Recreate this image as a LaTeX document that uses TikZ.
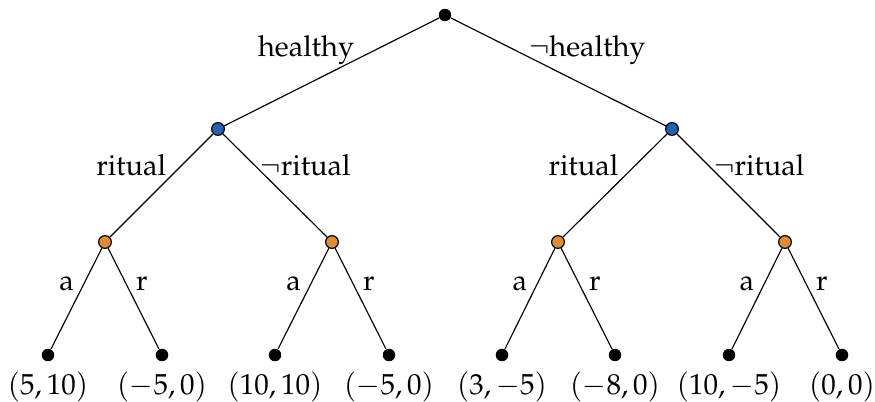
\documentclass[tikz,border=0pt]{standalone}
\usepackage[T1]{fontenc}
\usepackage{mathpazo}
\usepackage{tikz}

\definecolor{natblue}{RGB}{35,98,178}
\definecolor{natorange}{RGB}{222,140,58}

\begin{document}
\begin{tikzpicture}[x=0.345pt,y=-0.345pt,
    leaf/.style={circle,fill=black,inner sep=0pt,minimum size=4.3pt},
    chance/.style={circle,draw=black,fill=#1,inner sep=0pt,minimum size=4.4pt,line width=0.4pt}]
    \useasboundingbox (0,0) rectangle (875,402);
    \node[leaf] (root) at (445,15) {};
    \node[chance=natblue] (h) at (218,129) {};
    \node[chance=natblue] (nh) at (672,129) {};
    \node[chance=natorange] (hr) at (105,242) {};
    \node[chance=natorange] (hnr) at (332,242) {};
    \node[chance=natorange] (nhr) at (558,242) {};
    \node[chance=natorange] (nhnr) at (785,242) {};
    % outcomes
    \node[leaf,label=below:{$(5,10)$}] (hra) at (48,355) {};
    \node[leaf,label=below:{$(-5,0)$}] (hrr) at (162,355) {};
    \node[leaf,label=below:{$(10,10)$}] (hnra) at (275,355) {};
    \node[leaf,label=below:{$(-5,0)$}] (hnrr) at (389,355) {};
    \node[leaf,label=below:{$(3,-5)$}] (nhra) at (502,355) {};
    \node[leaf,label=below:{$(-8,0)$}] (nhrr) at (615,355) {};
    \node[leaf,label=below:{$(10,-5)$}] (nhnra) at (729,355) {};
    \node[leaf,label=below:{$(0,0)$}] (nhnrr) at (842,355) {};
    % edges
    \draw (root) -- node[pos=.3,left,xshift=-3.5pt] {healthy} (h);
    \draw (root) -- node[pos=.3,right,xshift=1pt] {$\neg$healthy} (nh);
    \draw (h) -- node[pos=.3,left,xshift=-2pt] {ritual} (hr);
    \draw (h) -- node[pos=.3,right,xshift=-1.5pt] {$\neg$ritual} (hnr);
    \draw (nh) -- node[pos=.3,left,xshift=-2.5pt] {ritual} (nhr);
    \draw (nh) -- node[pos=.3,right,xshift=-1.5pt] {$\neg$ritual} (nhnr);
    \draw (hr) -- node[pos=.35,left] {a} (hra);
    \draw (hr) -- node[pos=.35,right] {r} (hrr);
    \draw (hnr) -- node[pos=.35,left] {a} (hnra);
    \draw (hnr) -- node[pos=.35,right] {r} (hnrr);
    \draw (nhr) -- node[pos=.35,left] {a} (nhra);
    \draw (nhr) -- node[pos=.35,right] {r} (nhrr);
    \draw (nhnr) -- node[pos=.35,left] {a} (nhnra);
    \draw (nhnr) -- node[pos=.35,right] {r} (nhnrr);
\end{tikzpicture}
\end{document}
